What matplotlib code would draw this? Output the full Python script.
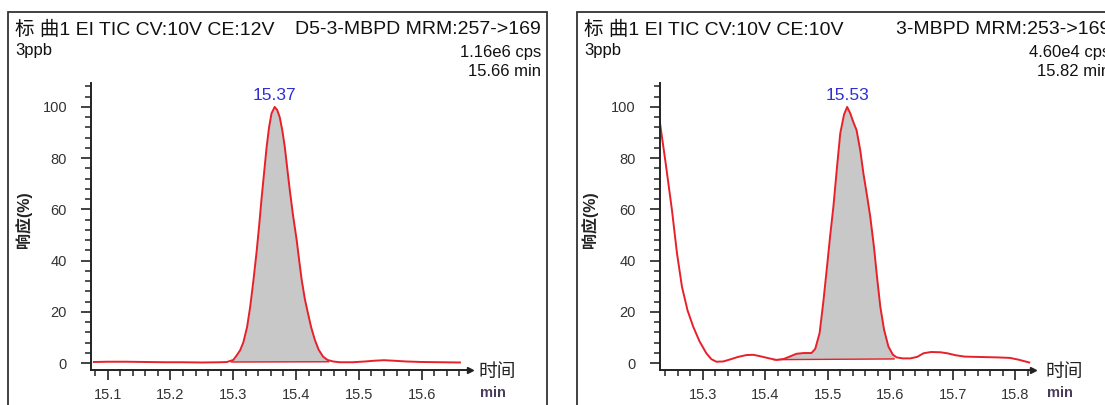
import matplotlib
matplotlib.use("Agg")
import matplotlib.pyplot as plt
import numpy as np
from matplotlib.patches import Rectangle
from matplotlib.ticker import MultipleLocator

plt.rcParams['font.family'] = ['Liberation Sans', 'Noto Sans CJK SC', 'DejaVu Sans']

# left chromatogram: D5-3-MBPD
t1 = [15.078, 15.10, 15.13, 15.16, 15.19, 15.22, 15.25, 15.28, 15.290, 15.300,
      15.305, 15.311, 15.316, 15.322, 15.327, 15.332, 15.337, 15.341, 15.345,
      15.349, 15.353, 15.357, 15.361, 15.366, 15.370, 15.374, 15.378, 15.382,
      15.386, 15.390, 15.395, 15.401, 15.405, 15.409, 15.414, 15.419, 15.424,
      15.430, 15.436, 15.443, 15.450, 15.459, 15.47, 15.49, 15.51, 15.525,
      15.540, 15.555, 15.575, 15.60, 15.63, 15.661]
y1 = [0.4, 0.5, 0.5, 0.4, 0.3, 0.3, 0.2, 0.3, 0.4, 1.2,
      2.8, 5.0, 8.0, 14.0, 22.0, 32.0, 43.0, 53.0, 64.0,
      74.0, 84.0, 92.0, 97.5, 100.0, 98.8, 96.0, 91.0, 84.5,
      76.0, 67.6, 58.0, 48.0, 40.0, 32.4, 25.0, 19.4, 14.0,
      9.0, 5.2, 2.5, 1.2, 0.6, 0.3, 0.3, 0.6, 0.9,
      1.1, 0.9, 0.6, 0.4, 0.3, 0.2]
base1 = ([15.297, 15.452], [0.4, 0.5])

# right chromatogram: 3-MBPD
t2 = [15.232, 15.241, 15.251, 15.259, 15.267, 15.276, 15.285, 15.295, 15.306,
      15.314, 15.322, 15.333, 15.344, 15.357, 15.370, 15.381, 15.391, 15.405,
      15.418, 15.430, 15.440, 15.450, 15.462, 15.474, 15.480, 15.487, 15.493,
      15.499, 15.504, 15.509, 15.515, 15.520, 15.526, 15.531, 15.536, 15.541,
      15.546, 15.552, 15.557, 15.563, 15.568, 15.574, 15.579, 15.584, 15.590,
      15.597, 15.604, 15.610, 15.620, 15.632, 15.643, 15.653, 15.665, 15.68,
      15.691, 15.705, 15.719, 15.735, 15.752, 15.770, 15.791, 15.805, 15.822]
y2 = [93.6, 78.0, 59.8, 43.0, 29.8, 20.5, 14.2, 8.5, 3.8,
      1.5, 0.5, 0.6, 1.4, 2.4, 3.1, 3.2, 2.7, 1.9,
      1.2, 1.6, 2.6, 3.6, 3.9, 3.9, 5.5, 11.7, 24.0,
      38.0, 50.0, 61.0, 77.0, 89.7, 97.0, 100.0, 97.5, 94.0,
      91.0, 83.0, 74.0, 65.0, 57.0, 45.0, 33.0, 22.0, 13.0,
      6.4, 3.3, 2.2, 1.8, 1.8, 2.4, 3.8, 4.3, 4.2,
      3.8, 3.0, 2.5, 2.4, 2.3, 2.2, 2.0, 1.3, 0.2]
base2 = ([15.414, 15.606], [1.3, 1.6])

panels = [
    dict(t=t1, y=y1, base=base1, xlim=(15.073, 15.677), peak="15.37", peak_t=15.366,
         ticks=[15.1, 15.2, 15.3, 15.4, 15.5, 15.6],
         title="标 曲1 EI TIC CV:10V CE:12V", compound="D5-3-MBPD MRM:257->169",
         cps="1.16e6 cps", tmin="15.66 min",
         ax_px=(90.7, 470.0), box_x=(8, 547), right_txt=541, ylab_x=24, unit_x=497),
    dict(t=t2, y=y2, base=base2, xlim=(15.2313, 15.828), peak="15.53", peak_t=15.531,
         ticks=[15.3, 15.4, 15.5, 15.6, 15.7, 15.8],
         title="标 曲1 EI TIC CV:10V CE:10V", compound="3-MBPD MRM:253->169",
         cps="4.60e4 cps", tmin="15.82 min",
         ax_px=(659.6, 1033.0), box_x=(577, 1120), right_txt=1110, ylab_x=590, unit_x=1064),
]

W, H = 1105, 405
fig = plt.figure(figsize=(W / 100, H / 100), dpi=100)


def fx(x):
    return x / W


def fy(y):
    return 1 - y / H


red = "#e8202a"
dark = "#222222"

for p in panels:
    # panel frame
    bx0, bx1 = p["box_x"]
    fig.patches.append(Rectangle((fx(bx0), fy(420)), fx(bx1 - bx0), (420 - 12) / H,
                                 transform=fig.transFigure, fill=False,
                                 edgecolor="#333333", lw=1.3))

    x0, x1 = p["ax_px"]
    top, bot = 82.6, 370.0
    ax = fig.add_axes([fx(x0), fy(bot), fx(x1 - x0), (bot - top) / H])
    ax.patch.set_alpha(0)

    t = np.array(p["t"])
    y = np.array(p["y"])
    bt, by = p["base"]
    inside = (t >= bt[0]) & (t <= bt[1])
    tt = np.concatenate([[bt[0]], t[inside], [bt[1]]])
    yy = np.concatenate([[np.interp(bt[0], t, y)], y[inside], [np.interp(bt[1], t, y)]])
    bl = np.interp(tt, bt, by)
    ax.fill_between(tt, bl, yy, color="#c8c8c8", lw=0)
    ax.plot(bt, by, color=red, lw=1.0)
    ax.plot(t, y, color=red, lw=1.4)

    ax.text(p["peak_t"], 104.5, p["peak"], color="#2f2fd8", fontsize=12.5,
            ha="center", va="center")

    ax.set_xlim(*p["xlim"])
    ax.set_ylim(-2.73, 109.5)
    ax.set_xticks(p["ticks"])
    ax.set_xticklabels([f"{v:.1f}" for v in p["ticks"]])
    ax.xaxis.set_minor_locator(MultipleLocator(0.02))
    ax.set_yticks([0, 20, 40, 60, 80, 100])
    ax.yaxis.set_minor_locator(MultipleLocator(4))
    for s in ["top", "right"]:
        ax.spines[s].set_visible(False)
    for s in ["left", "bottom"]:
        ax.spines[s].set_color(dark)
        ax.spines[s].set_linewidth(1.4)
    ax.tick_params(axis="x", which="major", length=7, width=1.2, color=dark,
                   labelsize=10.5, labelcolor="#333333", pad=6)
    ax.tick_params(axis="x", which="minor", length=4, width=1.1, color=dark)
    ax.tick_params(axis="y", which="major", length=7, width=1.2, color=dark,
                   labelsize=10.5, labelcolor="#333333", pad=10)
    ax.tick_params(axis="y", which="minor", length=4, width=1.1, color=dark)
    ax.plot([1], [0], marker=">", markersize=5, color=dark,
            transform=ax.transAxes, clip_on=False)

    # header texts
    fig.text(fx(bx0 + 7), fy(30), p["title"], fontsize=14, color="#111111",
             ha="left", va="center")
    fig.text(fx(p["right_txt"]), fy(30), p["compound"], fontsize=14, color="#111111",
             ha="right", va="center")
    fig.text(fx(bx0 + 7), fy(50), "3ppb", fontsize=12, color="#111111",
             ha="left", va="center")
    fig.text(fx(p["right_txt"]), fy(52), p["cps"], fontsize=12, color="#111111",
             ha="right", va="center")
    fig.text(fx(p["right_txt"]), fy(71), p["tmin"], fontsize=12, color="#111111",
             ha="right", va="center")

    fig.text(fx(p["ylab_x"]), fy(220), "响应(%)", fontsize=11.5, rotation=90,
             fontweight="bold", color="#222222", ha="center", va="center")
    fig.text(fx(p["unit_x"]), fy(372), "时间", fontsize=13.5, color="#222222",
             ha="center", va="center")
    fig.text(fx(p["unit_x"] - 4), fy(393), "min", fontsize=10.5, fontweight="bold",
             color="#4a3d5c", ha="center", va="center")

fig.savefig("out.png", dpi=100)
